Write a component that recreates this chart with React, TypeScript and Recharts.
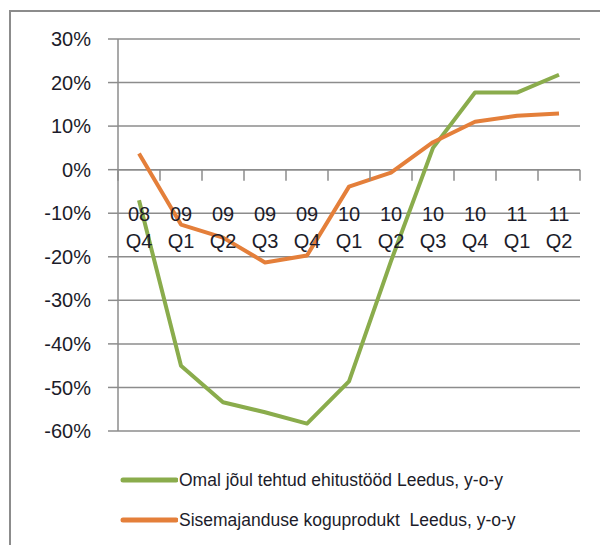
import React from 'react';
import { LineChart, Line, XAxis, YAxis, CartesianGrid, ReferenceLine } from 'recharts';

const years = ['08', '09', '09', '09', '09', '10', '10', '10', '10', '11', '11'];
const quarters = ['Q4', 'Q1', 'Q2', 'Q3', 'Q4', 'Q1', 'Q2', 'Q3', 'Q4', 'Q1', 'Q2'];
const construction = [-7, -45, -53.4, -55.7, -58.3, -48.6, -21, 5, 17.7, 17.7, 21.8];
const gdp = [3.7, -12.6, -15.6, -21.3, -19.7, -3.9, -0.7, 6.3, 11, 12.4, 12.9];
const yTicks = [30, 20, 10, 0, -10, -20, -30, -40, -50, -60];
const seriesNames = ['Omal jõul tehtud ehitustööd Leedus, y-o-y', 'Sisemajanduse koguprodukt  Leedus, y-o-y'];
const seriesColors = ['#8aac4c', '#e47f3a'];

const data = years.map((y, i) => ({
  label: `${y} ${quarters[i]}`,
  year: y,
  quarter: quarters[i],
  a: construction[i],
  b: gdp[i],
}));

const W = 600;
const H = 545;
const M = { top: 39, right: 20, bottom: 113, left: 58 };
const Y_W = 60;
const Y_MIN = -60;
const Y_MAX = 30;
const PLOT_TOP = M.top;
const PLOT_H = H - M.top - M.bottom - 1;
const ZERO_Y = PLOT_TOP + (PLOT_H * (Y_MAX - 0)) / (Y_MAX - Y_MIN);
const PLOT_W = W - M.left - Y_W - M.right;
const HALF_BAND = PLOT_W / years.length / 2;
const FONT = '"Liberation Sans", Arial, sans-serif';
const TEXT = '#1c1c2a';
const GRID = '#8c8c8c';

const XTick = (props: any) => {
  const { x, index, payload } = props;
  const d = data[index] || data.find((r) => r.label === payload.value);
  const last = index === years.length - 1;
  return (
    <g>
      <line x1={x - HALF_BAND} x2={x - HALF_BAND} y1={ZERO_Y} y2={ZERO_Y + 11} stroke={GRID} strokeWidth={1.5} />
      {last && (
        <line x1={x + HALF_BAND} x2={x + HALF_BAND} y1={ZERO_Y} y2={ZERO_Y + 11} stroke={GRID} strokeWidth={1.5} />
      )}
      <text x={x} y={ZERO_Y + 44} textAnchor="middle" dominantBaseline="central" fontSize={20} fontFamily={FONT} fill={TEXT}>
        {d ? d.year : ''}
      </text>
      <text x={x} y={ZERO_Y + 71} textAnchor="middle" dominantBaseline="central" fontSize={20} fontFamily={FONT} fill={TEXT}>
        {d ? d.quarter : ''}
      </text>
    </g>
  );
};

const LegendBox = () => (
  <div style={{ position: 'absolute', left: 120, top: 460, fontFamily: FONT, fontSize: 17.5, color: TEXT }}>
    {seriesNames.map((n, i) => (
      <div key={n} style={{ display: 'flex', alignItems: 'center', height: 40 }}>
        <svg width={58} height={8} style={{ display: 'block' }}>
          <line x1={3} x2={56} y1={4} y2={4} stroke={seriesColors[i]} strokeWidth={5} strokeLinecap="round" />
        </svg>
        <span style={{ marginLeft: 1, whiteSpace: 'pre' }}>{n}</span>
      </div>
    ))}
  </div>
);

export default function App() {
  return (
    <div style={{ position: 'absolute', left: 0, top: 0, width: W, height: H, background: '#fff', overflow: 'hidden' }}>
      <div
        style={{
          position: 'absolute',
          left: 9,
          top: 10,
          width: W - 9,
          height: H - 10,
          borderLeft: `2px solid ${GRID}`,
          borderTop: `2px solid ${GRID}`,
          boxSizing: 'border-box',
        }}
      />
      <div style={{ position: 'absolute', left: 0, top: 0 }}>
        <LineChart width={W} height={H} data={data} margin={M}>
          <CartesianGrid vertical={false} stroke={GRID} strokeWidth={1.5} />
          <XAxis
            dataKey="label"
            height={1}
            axisLine={false}
            tickLine={false}
            interval={0}
            padding={{ left: HALF_BAND, right: HALF_BAND }}
            tick={<XTick />}
          />
          <YAxis
            width={Y_W}
            domain={[Y_MIN, Y_MAX]}
            ticks={yTicks}
            interval={0}
            axisLine={{ stroke: GRID, strokeWidth: 1.5 }}
            tickLine={{ stroke: GRID, strokeWidth: 1.5 }}
            tickSize={10}
            tickMargin={17}
            tickFormatter={(v: number) => `${v}%`}
            tick={{ fontSize: 20, fontFamily: FONT, fill: TEXT }}
          />
          <ReferenceLine y={0} stroke={GRID} strokeWidth={1.5} />
          <Line dataKey="a" name={seriesNames[0]} stroke={seriesColors[0]} strokeWidth={4} dot={false} isAnimationActive={false} strokeLinejoin="round" />
          <Line dataKey="b" name={seriesNames[1]} stroke={seriesColors[1]} strokeWidth={4} dot={false} isAnimationActive={false} strokeLinejoin="round" />
        </LineChart>
      </div>
      <LegendBox />
    </div>
  );
}
